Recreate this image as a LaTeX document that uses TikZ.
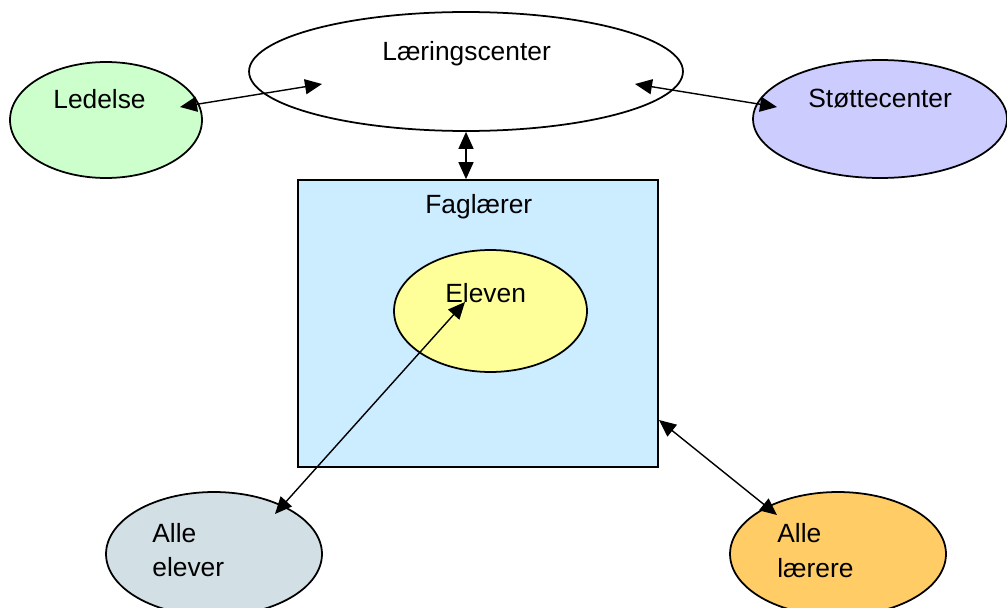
\documentclass[tikz,border=0pt]{standalone}
\usepackage{fontspec}
\setmainfont{Liberation Sans}
\usetikzlibrary{arrows.meta,shapes.geometric,calc}
\definecolor{LedClr}{RGB}{204,255,204}
\definecolor{StotClr}{RGB}{204,204,255}
\definecolor{FagClr}{RGB}{204,236,255}
\definecolor{ElevClr}{RGB}{255,255,153}
\definecolor{AlleElClr}{RGB}{210,223,228}
\definecolor{AlleLaClr}{RGB}{255,204,102}

\tikzset{
  oval/.style={draw=black,ellipse,line width=1pt,inner sep=0pt},
  txt/.style={anchor=base west,inner sep=0pt,font=\fontsize{15}{18}\selectfont},
  link/.style={line width=0.8pt,{Triangle[length=0.34cm,width=0.3cm]}-{Triangle[length=0.34cm,width=0.3cm]}}
}

\begin{document}
\begin{tikzpicture}[x=0.02cm,y=-0.02cm]
\useasboundingbox (0,0) rectangle (1007,608);

\node[draw=black,fill=FagClr,line width=1pt,minimum width=7.2cm,minimum height=5.74cm,inner sep=0pt] (fag) at (478,323.5) {};

\node[oval,fill=white,minimum width=8.68cm,minimum height=2.38cm] (lc) at (466,71.5) {};
\node[oval,fill=LedClr,minimum width=3.84cm,minimum height=2.32cm] (led) at (106,120) {};
\node[oval,fill=StotClr,minimum width=5.08cm,minimum height=2.36cm] (stot) at (880,119) {};
\node[oval,fill=ElevClr,minimum width=3.86cm,minimum height=2.44cm] (elev) at (490.5,311) {};
\node[oval,fill=AlleElClr,minimum width=4.32cm,minimum height=2.48cm] (alleel) at (214,554) {};
\node[oval,fill=AlleLaClr,minimum width=4.32cm,minimum height=2.48cm] (allela) at (838,554) {};

% labels
\node[txt] (tlc) at (382,61) {Læringscenter};
\node[txt] (tled) at (53,109) {Ledelse};
\node[txt] (tstot) at (808,108) {Støttecenter};
\node[txt] (tfag) at (425,213) {Faglærer};
\node[txt] (telev) at (445,302) {Eleven};
\node[txt] (talleel) at (152,542) {Alle};
\node[txt] (talleel2) at (152,576) {elever};
\node[txt] (tallela) at (777,542) {Alle};
\node[txt] (tallela2) at (777,577) {lærere};

% arrow ends
\coordinate (ledE) at (180,107);
\coordinate (lcW) at (322,84);
\coordinate (lcE) at (635,84);
\coordinate (stotW) at (777,107);
\coordinate (elevE) at (465,302);
\coordinate (alleelE) at (275,514);
\coordinate (fagE) at (659,420);
\coordinate (allelaE) at (777,515);

\draw[link] (ledE) -- (lcW);
\draw[link] (lcE) -- (stotW);
\draw[link] (lc.south) -- (lc.south |- fag.north);
\draw[link] (elevE) -- (alleelE);
\draw[link] (fagE) -- (allelaE);

\end{tikzpicture}
\end{document}
